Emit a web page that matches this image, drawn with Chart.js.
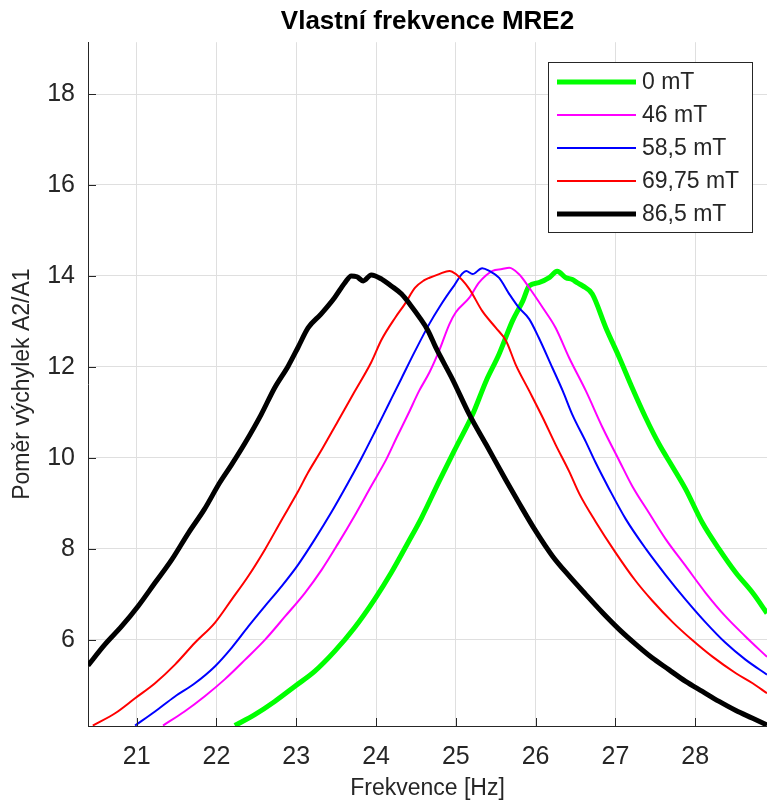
<!DOCTYPE html>
<html>
<head>
<meta charset="utf-8">
<script src="https://cdn.jsdelivr.net/npm/chart.js@4.4.0/dist/chart.umd.min.js"></script>
<style>
  html, body { margin: 0; padding: 0; background: #fff; }
  #c { display: block; }
</style>
</head>
<body>
<canvas id="c" width="767" height="805"></canvas>
<script>
// osa x / y
const X_MIN = 20.39, X_MAX = 28.9;
const Y_MIN = 4.1, Y_MAX = 19.14;
const xTicks = [21, 22, 23, 24, 25, 26, 27, 28];
const yTicks = [6, 8, 10, 12, 14, 16, 18];

const labels = ["0 mT", "46 mT", "58,5 mT", "69,75 mT", "86,5 mT"];

// 0 mT
const f0 = [22.23, 22.48, 22.73, 22.98, 23.23, 23.48, 23.73, 23.98, 24.19, 24.40, 24.57, 24.79, 25.00, 25.21, 25.38, 25.54, 25.71, 25.84, 25.92, 26.04, 26.17, 26.27, 26.38, 26.46, 26.52, 26.59, 26.71, 26.88, 27.05, 27.21, 27.38, 27.55, 27.71, 27.88, 28.09, 28.30, 28.51, 28.72, 28.90];
const r0 = [4.11, 4.35, 4.64, 4.97, 5.30, 5.74, 6.26, 6.88, 7.47, 8.13, 8.68, 9.48, 10.22, 10.95, 11.69, 12.27, 13.01, 13.45, 13.78, 13.85, 13.96, 14.10, 13.96, 13.92, 13.85, 13.78, 13.60, 12.86, 12.20, 11.54, 10.88, 10.29, 9.82, 9.31, 8.57, 7.99, 7.47, 7.03, 6.58];
// 46 mT
const f1 = [21.33, 21.60, 21.85, 22.10, 22.36, 22.61, 22.86, 23.11, 23.32, 23.52, 23.73, 23.94, 24.13, 24.26, 24.40, 24.54, 24.67, 24.79, 24.92, 25.00, 25.17, 25.29, 25.46, 25.58, 25.67, 25.79, 25.92, 26.09, 26.25, 26.42, 26.63, 26.84, 27.05, 27.21, 27.42, 27.63, 27.88, 28.13, 28.38, 28.63, 28.90];
const r1 = [4.11, 4.42, 4.75, 5.12, 5.56, 6.00, 6.51, 7.03, 7.54, 8.10, 8.72, 9.38, 9.97, 10.45, 10.95, 11.47, 11.88, 12.35, 12.94, 13.20, 13.52, 13.85, 14.11, 14.15, 14.18, 14.04, 13.74, 13.30, 12.86, 12.20, 11.47, 10.66, 9.93, 9.38, 8.79, 8.21, 7.62, 7.03, 6.51, 6.07, 5.62];
// 58,5 mT
const f2 = [20.98, 21.23, 21.48, 21.73, 21.98, 22.19, 22.40, 22.61, 22.81, 23.02, 23.23, 23.44, 23.65, 23.82, 23.98, 24.15, 24.32, 24.49, 24.67, 24.79, 24.96, 25.13, 25.21, 25.33, 25.42, 25.54, 25.67, 25.79, 25.92, 26.04, 26.21, 26.34, 26.46, 26.63, 26.75, 26.92, 27.13, 27.38, 27.63, 27.88, 28.13, 28.38, 28.63, 28.90];
const r2 = [4.11, 4.42, 4.75, 5.04, 5.41, 5.82, 6.29, 6.74, 7.16, 7.64, 8.20, 8.80, 9.45, 10.00, 10.55, 11.15, 11.75, 12.35, 12.95, 13.30, 13.74, 14.11, 14.04, 14.17, 14.11, 13.96, 13.60, 13.30, 13.05, 12.64, 11.98, 11.47, 10.95, 10.35, 9.90, 9.32, 8.65, 8.00, 7.42, 6.88, 6.38, 5.93, 5.56, 5.23];
// 69,75 mT
const f3 = [20.45, 20.73, 20.98, 21.23, 21.48, 21.73, 21.98, 22.19, 22.40, 22.61, 22.81, 23.02, 23.15, 23.30, 23.52, 23.73, 23.94, 24.07, 24.24, 24.36, 24.49, 24.60, 24.67, 24.79, 24.92, 25.00, 25.17, 25.33, 25.50, 25.63, 25.75, 25.92, 26.09, 26.25, 26.42, 26.55, 26.75, 27.00, 27.25, 27.46, 27.72, 27.97, 28.22, 28.51, 28.72, 28.90];
const r3 = [4.11, 4.38, 4.71, 5.04, 5.45, 5.93, 6.37, 6.88, 7.40, 7.99, 8.61, 9.25, 9.68, 10.12, 10.80, 11.45, 12.10, 12.60, 13.08, 13.38, 13.74, 13.90, 13.96, 14.04, 14.11, 14.04, 13.71, 13.23, 12.86, 12.57, 12.05, 11.47, 10.88, 10.29, 9.70, 9.20, 8.60, 7.92, 7.30, 6.86, 6.38, 5.98, 5.62, 5.26, 5.04, 4.82];
// 86,5 mT
const f4 = [20.39, 20.60, 20.81, 21.02, 21.23, 21.44, 21.65, 21.85, 22.04, 22.19, 22.36, 22.56, 22.73, 22.90, 23.02, 23.15, 23.31, 23.48, 23.61, 23.69, 23.76, 23.84, 23.94, 24.07, 24.19, 24.32, 24.44, 24.54, 24.65, 24.75, 24.96, 25.17, 25.38, 25.63, 25.79, 26.00, 26.21, 26.42, 26.63, 26.84, 27.05, 27.26, 27.46, 27.67, 27.88, 28.09, 28.30, 28.51, 28.72, 28.90];
const r4 = [5.43, 5.89, 6.29, 6.74, 7.25, 7.76, 8.35, 8.87, 9.45, 9.85, 10.33, 10.95, 11.54, 12.02, 12.42, 12.86, 13.16, 13.52, 13.85, 14.00, 13.98, 13.89, 14.02, 13.93, 13.78, 13.60, 13.34, 13.10, 12.80, 12.42, 11.72, 10.95, 10.29, 9.50, 9.01, 8.39, 7.84, 7.40, 6.99, 6.59, 6.22, 5.89, 5.60, 5.34, 5.08, 4.86, 4.64, 4.44, 4.27, 4.12];

const freqs = [f0, f1, f2, f3, f4];
const ratios = [r0, r1, r2, r3, r4];
const colors = ["#00ff00", "#ff00ff", "#0000ff", "#ff0000", "#000000"];
const widths = [5, 2, 2, 2, 5];

const FONT = "'Liberation Sans', Arial, Helvetica, sans-serif";
const TXT = "#262626";

function toPoints(xs, ys) {
  return xs.map((x, i) => ({ x, y: ys[i] }));
}

/* ---------- tick marks inside + legend box ---------- */
const insideTicks = {
  id: "insideTicks",
  afterDatasetsDraw(chart) {
    const { ctx, chartArea: a, scales: { x, y } } = chart;
    ctx.save();
    ctx.strokeStyle = TXT;
    ctx.lineWidth = 1;
    ctx.beginPath();
    xTicks.forEach(v => {
      const px = Math.round(x.getPixelForValue(v)) + 0.5;
      ctx.moveTo(px, a.bottom);
      ctx.lineTo(px, a.bottom - 8);
    });
    yTicks.forEach(v => {
      const py = Math.round(y.getPixelForValue(v)) + 0.5;
      ctx.moveTo(a.left, py);
      ctx.lineTo(a.left + 8, py);
    });
    ctx.stroke();
    ctx.restore();
  }
};

const legendBox = {
  id: "legendBox",
  afterDraw(chart) {
    const { ctx } = chart;
    const bx = 548, by = 62, bw = 204, bh = 170;
    ctx.save();
    ctx.fillStyle = "#fff";
    ctx.fillRect(bx, by, bw, bh);
    ctx.strokeStyle = TXT;
    ctx.lineWidth = 1;
    ctx.strokeRect(bx + 0.5, by + 0.5, bw, bh);
    ctx.font = "23px " + FONT;
    ctx.textBaseline = "middle";
    ctx.fillStyle = TXT;
    chart.data.datasets.forEach((ds, i) => {
      const ry = by + 20 + i * 33;
      ctx.strokeStyle = ds.borderColor;
      ctx.lineWidth = ds.borderWidth;
      ctx.beginPath();
      ctx.moveTo(bx + 9, ry);
      ctx.lineTo(bx + 88, ry);
      ctx.stroke();
      ctx.fillText(ds.label, bx + 94, ry + 1);
    });
    ctx.restore();
  }
};

new Chart(document.getElementById("c"), {
  type: "line",
  data: {
    datasets: labels.map((lab, i) => ({
      label: lab,
      data: toPoints(freqs[i], ratios[i]),
      borderColor: colors[i],
      backgroundColor: colors[i],
      borderWidth: widths[i],
      pointRadius: 0,
      fill: false,
      cubicInterpolationMode: "monotone",
      clip: 0,
      order: labels.length - i
    }))
  },
  options: {
    responsive: false,
    animation: false,
    layout: { padding: 0 },
    plugins: {
      legend: { display: false },
      tooltip: { enabled: false },
      title: {
        display: true,
        text: "Vlastní frekvence MRE2",
        fullSize: false,
        color: "#000",
        font: { family: FONT, size: 26, weight: "bold" },
        padding: { top: 6, bottom: 5 }
      }
    },
    scales: {
      x: {
        type: "linear",
        min: X_MIN,
        max: X_MAX,
        afterBuildTicks: s => { s.ticks = xTicks.map(v => ({ value: v })); },
        afterFit: s => { s.height = 79; },
        grid: { color: "#dfdfdf", drawTicks: false },
        border: { display: true, color: TXT, width: 1 },
        ticks: {
          color: TXT,
          padding: 16,
          maxRotation: 0,
          font: { family: FONT, size: 25 },
          callback: v => String(v)
        },
        title: {
          display: true,
          text: "Frekvence [Hz]",
          color: TXT,
          font: { family: FONT, size: 23 },
          padding: { top: 0, bottom: 3 }
        }
      },
      y: {
        type: "linear",
        min: Y_MIN,
        max: Y_MAX,
        afterBuildTicks: s => { s.ticks = yTicks.map(v => ({ value: v })); },
        afterFit: s => { s.width = 88; },
        grid: { color: "#dfdfdf", drawTicks: false },
        border: { display: true, color: TXT, width: 1 },
        ticks: {
          color: TXT,
          padding: 13,
          font: { family: FONT, size: 25 },
          callback: v => String(v)
        },
        title: {
          display: true,
          text: "Poměr výchylek A2/A1",
          color: TXT,
          font: { family: FONT, size: 23 },
          padding: { top: 9, bottom: 0 }
        }
      }
    }
  },
  plugins: [insideTicks, legendBox]
});
</script>
</body>
</html>
